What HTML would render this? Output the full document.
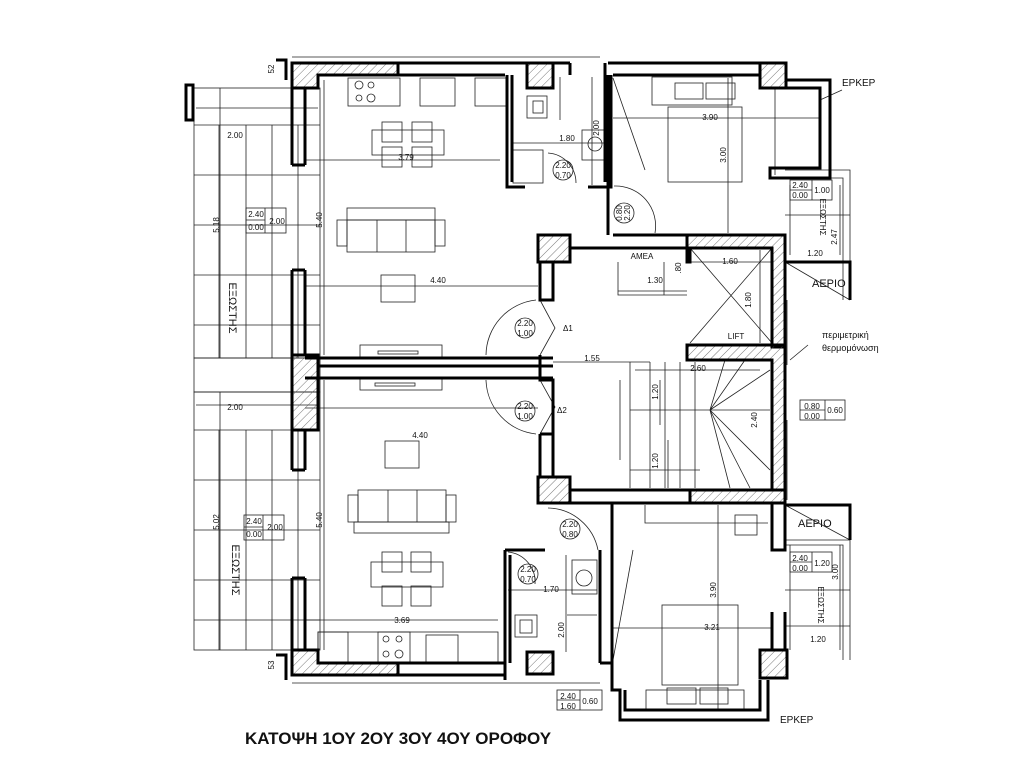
<!DOCTYPE html>
<html><head><meta charset="utf-8"><style>
html,body{margin:0;padding:0;background:#fff}
svg{display:block}
text{font-family:"Liberation Sans",sans-serif;fill:#111}
</style></head><body>
<svg width="1024" height="768" viewBox="0 0 1024 768">
<defs>
<pattern id="h" width="6" height="6" patternUnits="userSpaceOnUse" patternTransform="rotate(45)">
<line x1="0" y1="0" x2="0" y2="6" stroke="#555" stroke-width="0.8"/></pattern>
</defs>
<rect width="1024" height="768" fill="#fff"/>
<g fill="none" stroke="#222" stroke-width="0.8">
<rect x="194" y="88" width="126" height="270"/>
<rect x="194" y="392" width="126" height="258"/>
<rect x="194" y="358" width="126" height="34"/>
<path d="M194 125H320M194 175H320M194 225H320M194 275H320M194 325H320M219 125V358M246 125V358M272 125V358M298 125V358"/>
<path d="M194 430H320M194 480H320M194 530H320M194 580H320M194 620H320M219 430V650M246 430V650M272 430V650M298 430V650"/>
<path d="M196 108H318M196 405H318M220 88V358M220 392V650"/>
<rect x="246" y="208" width="40" height="25"/><line x1="246" y1="220" x2="265" y2="220"/><line x1="265" y1="208" x2="265" y2="233"/>
<rect x="244" y="515" width="40" height="25"/><line x1="244" y1="527" x2="263" y2="527"/><line x1="263" y1="515" x2="263" y2="540"/>
<path d="M292 57H600M292 683H600"/>
<path d="M324 80V355M305 160H500M305 286H538M305 408H538M305 620H498M324 380V650"/>
<rect x="348" y="78" width="52" height="28"/><rect x="420" y="78" width="35" height="28"/><rect x="475" y="78" width="32" height="28"/>
<circle cx="359" cy="85" r="4"/><circle cx="371" cy="85" r="3"/><circle cx="359" cy="98" r="3"/><circle cx="371" cy="98" r="4"/>
<rect x="372" y="130" width="72" height="25"/><rect x="382" y="122" width="20" height="20"/><rect x="412" y="122" width="20" height="20"/><rect x="382" y="147" width="20" height="20"/><rect x="412" y="147" width="20" height="20"/>
<rect x="347" y="220" width="88" height="32"/><line x1="377" y1="220" x2="377" y2="252"/><line x1="406" y1="220" x2="406" y2="252"/>
<rect x="337" y="220" width="10" height="26"/><rect x="435" y="220" width="10" height="26"/><rect x="347" y="208" width="88" height="12"/>
<rect x="381" y="275" width="34" height="27"/>
<rect x="360" y="345" width="82" height="13"/><rect x="378" y="351" width="40" height="3"/>
<rect x="360" y="377" width="82" height="13"/><rect x="375" y="383" width="40" height="3"/>
<rect x="385" y="441" width="34" height="27"/>
<rect x="358" y="490" width="88" height="32"/><line x1="388" y1="490" x2="388" y2="522"/><line x1="417" y1="490" x2="417" y2="522"/>
<rect x="348" y="495" width="10" height="27"/><rect x="446" y="495" width="10" height="27"/><rect x="354" y="522" width="95" height="11"/>
<rect x="371" y="562" width="72" height="25"/><rect x="382" y="552" width="20" height="20"/><rect x="411" y="552" width="20" height="20"/><rect x="382" y="586" width="20" height="20"/><rect x="411" y="586" width="20" height="20"/>
<rect x="318" y="632" width="180" height="30"/><rect x="318" y="632" width="30" height="30"/><rect x="378" y="632" width="32" height="30"/><rect x="426" y="635" width="32" height="27"/>
<circle cx="386" cy="639" r="3"/><circle cx="399" cy="639" r="3"/><circle cx="386" cy="654" r="3"/><circle cx="399" cy="654" r="4"/>
<path d="M536 300A56 56 0 0 0 486 355"/><path d="M536 434A56 56 0 0 1 486 380"/>
<path d="M540 300L555 328L540 355M540 380L555 407L540 434"/>
<path d="M614 186A40 40 0 0 1 655 233"/><path d="M548 508A52 52 0 0 1 598 550"/>
<path d="M548 153A30 30 0 0 1 576 183"/><path d="M508 552A30 30 0 0 1 535 584"/>
<rect x="527" y="96" width="20" height="22"/><rect x="533" y="101" width="10" height="12"/>
<rect x="582" y="130" width="25" height="30"/><circle cx="595" cy="144" r="7"/>
<rect x="513" y="150" width="30" height="33"/><path d="M560 77V120M511 143H605M592 77V185"/>
<rect x="515" y="615" width="22" height="22"/><rect x="520" y="620" width="12" height="13"/>
<rect x="572" y="560" width="25" height="34"/><circle cx="584" cy="578" r="8"/>
<path d="M566 555V652M508 590H597M567 615H597"/>
<rect x="652" y="77" width="80" height="28"/><rect x="675" y="83" width="28" height="16"/><rect x="706" y="83" width="29" height="16"/>
<rect x="668" y="107" width="74" height="75"/><path d="M613 78L645 170M613 118H820M728 78V233M775 88V175"/>
<rect x="662" y="605" width="76" height="80"/><rect x="646" y="690" width="98" height="20"/><rect x="667" y="688" width="29" height="16"/><rect x="700" y="688" width="28" height="16"/>
<rect x="735" y="515" width="22" height="20"/><path d="M645 505V523H768M633 550L613 660M613 628H772M718 505V710"/>
<path d="M618 262V295H687M618 291H687M664 262V295M690 248L772 343M772 248L690 343M690 262H772M760 250V343"/>
<path d="M553 362H650M635 370H760M630 410H770M630 362V488M650 362V488M665 362V488M680 362V488M695 362V488M710 410L770 370M710 410L770 470M710 410L730 488M710 410L750 488M710 410L745 360M710 410L725 360M630 470H700"/>
<path d="M660 380V425M620 380V460M668 440V488"/>
<path d="M785 170H850V300M785 178H843V300M790 185V255M840 185V255M785 262L850 300M785 540H850V660M785 545H843V660M790 545V650M840 545V650M785 505L850 540M785 626H850"/>
<rect x="790" y="180" width="42" height="20"/><line x1="790" y1="190" x2="812" y2="190"/><line x1="812" y1="180" x2="812" y2="200"/>
<rect x="790" y="552" width="42" height="20"/><line x1="790" y1="562" x2="812" y2="562"/><line x1="812" y1="552" x2="812" y2="572"/>
<rect x="800" y="400" width="45" height="20"/><line x1="800" y1="410" x2="825" y2="410"/><line x1="825" y1="400" x2="825" y2="420"/>
<rect x="557" y="690" width="45" height="20"/><line x1="557" y1="700" x2="580" y2="700"/><line x1="580" y1="690" x2="580" y2="710"/>
<path d="M785 215H850M785 590H850M787 300V365M787 420V500M820 100L842 90M790 360L808 345"/>
<circle cx="525" cy="328" r="10"/><circle cx="525" cy="411" r="10"/><circle cx="570" cy="529" r="10"/><circle cx="528" cy="574" r="10"/><circle cx="563" cy="170" r="10"/><circle cx="624" cy="213" r="10"/>
</g>
<g fill="url(#h)" stroke="#000" stroke-width="3">
<path d="M292 63H398V75H318V88H292Z"/>
<rect x="527" y="63" width="26" height="25"/>
<rect x="760" y="63" width="26" height="25"/>
<rect x="538" y="235" width="32" height="27"/>
<path d="M292 355H318V430H292Z"/>
<path d="M687 235H785V347H772V248H690V262H687Z" />
<path d="M687 345H785V490H772V360H687Z"/>
<path d="M690 490H785V503H690Z"/>
<rect x="538" y="477" width="32" height="26"/>
<path d="M292 650H318V663H398V675H292Z"/>
<rect x="527" y="652" width="26" height="22"/>
<rect x="760" y="650" width="27" height="28"/>
</g>
<g fill="none" stroke="#000" stroke-width="3">
<path d="M398 63H570M398 75H505M570 63V75M605 63V75"/>
<path d="M292 88V165M305 88V165M292 165H305M292 270V355M305 270V355M292 270H305"/>
<path d="M292 430V470M305 430V470M292 470H305M292 578V650M305 578V650M292 578H305"/>
<path d="M305 358H553M318 366H553M305 378H553"/>
<path d="M507 75V187H525M512 75V182M588 187H611V75M605 75V182"/>
<path d="M608 63H760M613 75H760M608 75V235M786 80H830V178H770V168H820V88H786"/>
<path d="M613 235H785M570 248H687M553 262V300H540V262M540 355V380H553V434H540M553 380V434M540 434V477M553 434V477"/>
<path d="M570 490H690M570 503H690"/>
<path d="M785 235V262M785 300V363M785 425V490M772 503V550H785V503M772 612V650M785 612V650"/>
<path d="M785 262H850V300M785 505H850V540"/>
<path d="M600 550V663M505 550V680M505 550H545M510 555V663M612 503V690H620V720H768V680M625 690V710H760V680"/>
<path d="M318 663H505M305 675H505M600 663H612"/>
<path d="M186 85H193V120H186Z M276 60H286V80M276 655H286V680"/>
</g>
<g font-size="8" text-anchor="middle">
<text x="235" y="138">2.00</text><text x="235" y="410">2.00</text>
<text x="256" y="217">2.40</text><text x="256" y="230">0.00</text><text x="277" y="224">2.00</text>
<text x="254" y="524">2.40</text><text x="254" y="537">0.00</text><text x="275" y="530">2.00</text>
<text x="406" y="160">3.79</text><text x="438" y="283">4.40</text><text x="420" y="438">4.40</text><text x="402" y="623">3.69</text>
<text x="567" y="141">1.80</text><text x="551" y="592">1.70</text><text x="710" y="120">3.90</text><text x="712" y="630">3.21</text>
<text x="642" y="259">ΑΜΕΑ</text><text x="655" y="283">1.30</text><text x="730" y="264">1.60</text><text x="592" y="361">1.55</text><text x="698" y="371">2.60</text>
<text x="815" y="256">1.20</text><text x="818" y="642">1.20</text>
<text x="800" y="188">2.40</text><text x="800" y="198">0.00</text><text x="822" y="193">1.00</text>
<text x="800" y="561">2.40</text><text x="800" y="571">0.00</text><text x="822" y="566">1.20</text>
<text x="812" y="409">0.80</text><text x="812" y="419">0.00</text><text x="835" y="413">0.60</text>
<text x="568" y="699">2.40</text><text x="568" y="709">1.60</text><text x="590" y="704">0.60</text>
<text x="525" y="326">2.20</text><text x="525" y="336">1.00</text><text x="525" y="409">2.20</text><text x="525" y="419">1.00</text>
<text x="570" y="527">2.20</text><text x="570" y="537">0.80</text><text x="528" y="572">2.20</text><text x="528" y="582">0.70</text>
<text x="563" y="168">2.20</text><text x="563" y="178">0.70</text>
<text x="563" y="331" text-anchor="start">Δ1</text><text x="557" y="413" text-anchor="start">Δ2</text>
<text x="736" y="339">LIFT</text>
</g>
<g font-size="8" text-anchor="middle">
<text transform="translate(219,225) rotate(-90)">5.18</text>
<text transform="translate(219,522) rotate(-90)">5.02</text>
<text transform="translate(322,220) rotate(-90)">5.40</text>
<text transform="translate(322,520) rotate(-90)">5.40</text>
<text transform="translate(599,128) rotate(-90)">2.00</text>
<text transform="translate(564,630) rotate(-90)">2.00</text>
<text transform="translate(726,155) rotate(-90)">3.00</text>
<text transform="translate(716,590) rotate(-90)">3.90</text>
<text transform="translate(681,268) rotate(-90)">.80</text>
<text transform="translate(751,300) rotate(-90)">1.80</text>
<text transform="translate(658,392) rotate(-90)">1.20</text>
<text transform="translate(658,461) rotate(-90)">1.20</text>
<text transform="translate(757,420) rotate(-90)">2.40</text>
<text transform="translate(837,237) rotate(-90)">2.47</text>
<text transform="translate(838,572) rotate(-90)">3.00</text>
<text transform="translate(622,213) rotate(-90)">0.80</text>
<text transform="translate(630,213) rotate(-90)">2.20</text>
<text transform="translate(820,217) rotate(90)">ΕΞΩΣΤΗΣ</text>
<text transform="translate(818,605) rotate(90)">ΕΞΩΣΤΗΣ</text>
<text transform="translate(274,69) rotate(-90)">52</text>
<text transform="translate(274,665) rotate(-90)">53</text>
</g>
<g font-size="11" text-anchor="middle">
<text transform="translate(229,308) rotate(90)">ΕΞΩΣΤΗΣ</text>
<text transform="translate(232,570) rotate(90)">ΕΞΩΣΤΗΣ</text>
</g>
<g font-size="10">
<text x="812" y="287" font-size="11">ΑΕΡΙΟ</text><text x="798" y="527" font-size="11">ΑΕΡΙΟ</text>
<text x="842" y="86">ΕΡΚΕΡ</text><text x="780" y="723">ΕΡΚΕΡ</text>
<text x="822" y="338" font-size="9">περιμετρική</text><text x="822" y="351" font-size="9">θερμομόνωση</text>
</g>
<text x="245" y="744" font-size="17" font-weight="bold">ΚΑΤΟΨΗ 1ΟΥ 2ΟΥ 3ΟΥ 4ΟΥ ΟΡΟΦΟΥ</text>
</svg>
</body></html>
